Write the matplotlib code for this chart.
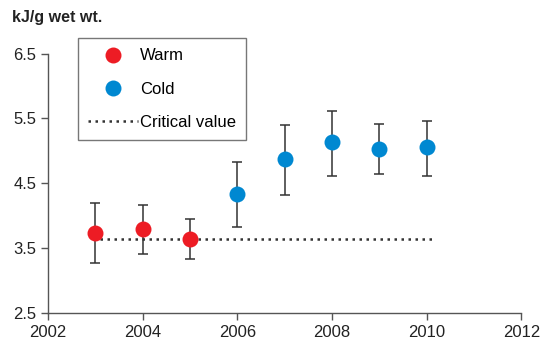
import matplotlib
matplotlib.use("Agg")
import matplotlib.pyplot as plt
from matplotlib.lines import Line2D

plt.rcParams["font.family"] = ["Liberation Sans", "DejaVu Sans"]

# data
warm_years = [2003, 2004, 2005]
warm_vals = [3.74, 3.80, 3.65]
warm_lo = [3.27, 3.42, 3.33]
warm_hi = [4.20, 4.16, 3.95]

cold_years = [2006, 2007, 2008, 2009, 2010]
cold_vals = [4.34, 4.88, 5.14, 5.03, 5.06]
cold_lo = [3.83, 4.32, 4.61, 4.645, 4.61]
cold_hi = [4.83, 5.40, 5.62, 5.42, 5.46]

critical_value = 3.65
critical_span = [2003.1, 2010.1]

x_ticks = [2002, 2004, 2006, 2008, 2010, 2012]
y_ticks = [2.5, 3.5, 4.5, 5.5, 6.5]

RED = "#ED1C24"
BLUE = "#0088D1"
AXIS = "#555555"


def _err(vals, lo, hi):
    return [[v - l for v, l in zip(vals, lo)], [h - v for v, h in zip(vals, hi)]]


fig = plt.figure(figsize=(5.42, 3.49), dpi=100)
ax = fig.add_axes([0.0886, 0.1023, 0.8735, 0.7444])

ax.plot(critical_span, [critical_value] * 2, color="#333333", lw=1.8,
        linestyle=(0, (1, 1.8)), zorder=2)

ax.errorbar(warm_years, warm_vals, yerr=_err(warm_vals, warm_lo, warm_hi), fmt="none",
            ecolor="#333333", elinewidth=1.1, capsize=3.5, capthick=1.1, zorder=1)
ax.errorbar(cold_years, cold_vals, yerr=_err(cold_vals, cold_lo, cold_hi), fmt="none",
            ecolor="#333333", elinewidth=1.1, capsize=3.5, capthick=1.1, zorder=1)
ax.plot(warm_years, warm_vals, "o", color=RED, ms=11.5, mec="none", zorder=3)
ax.plot(cold_years, cold_vals, "o", color=BLUE, ms=11.5, mec="none", zorder=3)

ax.set_xlim(2002, 2012)
ax.set_ylim(2.5, 6.5)
ax.set_xticks(x_ticks)
ax.set_yticks(y_ticks)
ax.set_yticklabels([f"{v:.1f}" for v in y_ticks])

for side in ("top", "right"):
    ax.spines[side].set_visible(False)
for side in ("left", "bottom"):
    ax.spines[side].set_color(AXIS)
    ax.spines[side].set_linewidth(1.0)
ax.tick_params(colors=AXIS, labelcolor="#222222", labelsize=12, length=5, width=1.0)

handles = [
    Line2D([], [], marker="o", ls="none", color=RED, ms=11.5, mec="none"),
    Line2D([], [], marker="o", ls="none", color=BLUE, ms=11.5, mec="none"),
    Line2D([], [], color="#333333", lw=1.8, linestyle=(0, (1, 1.8))),
]
leg = ax.legend(handles, ["Warm", "Cold", "Critical value"], loc="upper left",
                bbox_to_anchor=(0.064, 1.058), borderaxespad=0, fancybox=False,
                framealpha=1, edgecolor="#777777", fontsize=12, labelspacing=1.1,
                handlelength=3.0, handletextpad=0.1, borderpad=0.6)
leg.get_frame().set_linewidth(1.0)

fig.text(0.022, 0.951, "kJ/g wet wt.", fontsize=11.5, fontweight="bold",
         color="#222222", va="center", ha="left")

fig.savefig("out.png", dpi=100)
